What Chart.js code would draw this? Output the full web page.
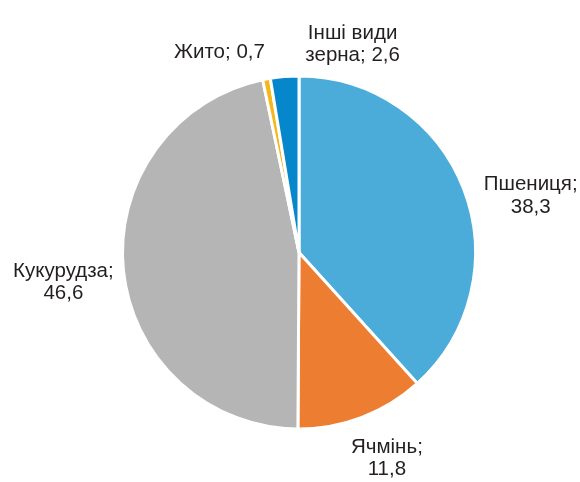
<!DOCTYPE html>
<html>
<head>
<meta charset="utf-8">
<script src="https://cdn.jsdelivr.net/npm/chart.js@4/dist/chart.umd.min.js"></script>
<style>
html,body{margin:0;padding:0;background:#fff;}
#wrap{width:580px;height:482px;position:relative;}
</style>
</head>
<body>
<div id="wrap"><canvas id="c" width="580" height="482"></canvas></div>
<script>
const categories = ['Пшениця', 'Ячмінь', 'Кукурудза', 'Жито', 'Інші види зерна'];
const values = [38.3, 11.8, 46.6, 0.7, 2.6];
const colors = ['#4BACD9', '#ED7D31', '#B5B5B5', '#F5B719', '#0787CB'];

// label layout: wrap width and offset from outer arc midpoint (pixels)
const labelWrap = [110, 90, 125, 220, 110];
const labelOffset = [[67, 7], [25, 41], [-60, 12], [-47, -27], [68, -32]];

function fmt(v) { return v.toFixed(1).replace('.', ','); }

function wrapText(ctx, text, maxW) {
  const words = text.split(' ');
  const lines = [];
  let cur = '';
  for (const w of words) {
    const t = cur ? cur + ' ' + w : w;
    if (cur && ctx.measureText(t).width > maxW) { lines.push(cur); cur = w; }
    else cur = t;
  }
  if (cur) lines.push(cur);
  return lines;
}

const labelPlugin = {
  id: 'outerLabels',
  afterDatasetsDraw(chart) {
    const ctx = chart.ctx;
    const meta = chart.getDatasetMeta(0);
    ctx.save();
    ctx.font = '20.5px "Liberation Sans", Arial, sans-serif';
    ctx.fillStyle = '#231F20';
    ctx.textAlign = 'center';
    ctx.textBaseline = 'middle';
    meta.data.forEach((arc, i) => {
      const mid = (arc.startAngle + arc.endAngle) / 2;
      const r = arc.outerRadius;
      const px = arc.x + Math.cos(mid) * r + labelOffset[i][0];
      const py = arc.y + Math.sin(mid) * r + labelOffset[i][1];
      const text = categories[i] + '; ' + fmt(values[i]);
      const lines = wrapText(ctx, text, labelWrap[i]);
      const lh = 22.5;
      const y0 = py - (lines.length - 1) * lh / 2;
      lines.forEach((ln, k) => ctx.fillText(ln, px, y0 + k * lh));
    });
    ctx.restore();
  }
};

new Chart(document.getElementById('c'), {
  type: 'pie',
  data: {
    labels: categories,
    datasets: [{
      data: values,
      backgroundColor: colors,
      borderColor: '#ffffff',
      borderWidth: 3
    }]
  },
  options: {
    responsive: false,
    animation: false,
    layout: { padding: { top: 74, bottom: 51, left: 121, right: 103 } },
    plugins: {
      legend: { display: false },
      tooltip: { enabled: false }
    }
  },
  plugins: [labelPlugin]
});
</script>
</body>
</html>
